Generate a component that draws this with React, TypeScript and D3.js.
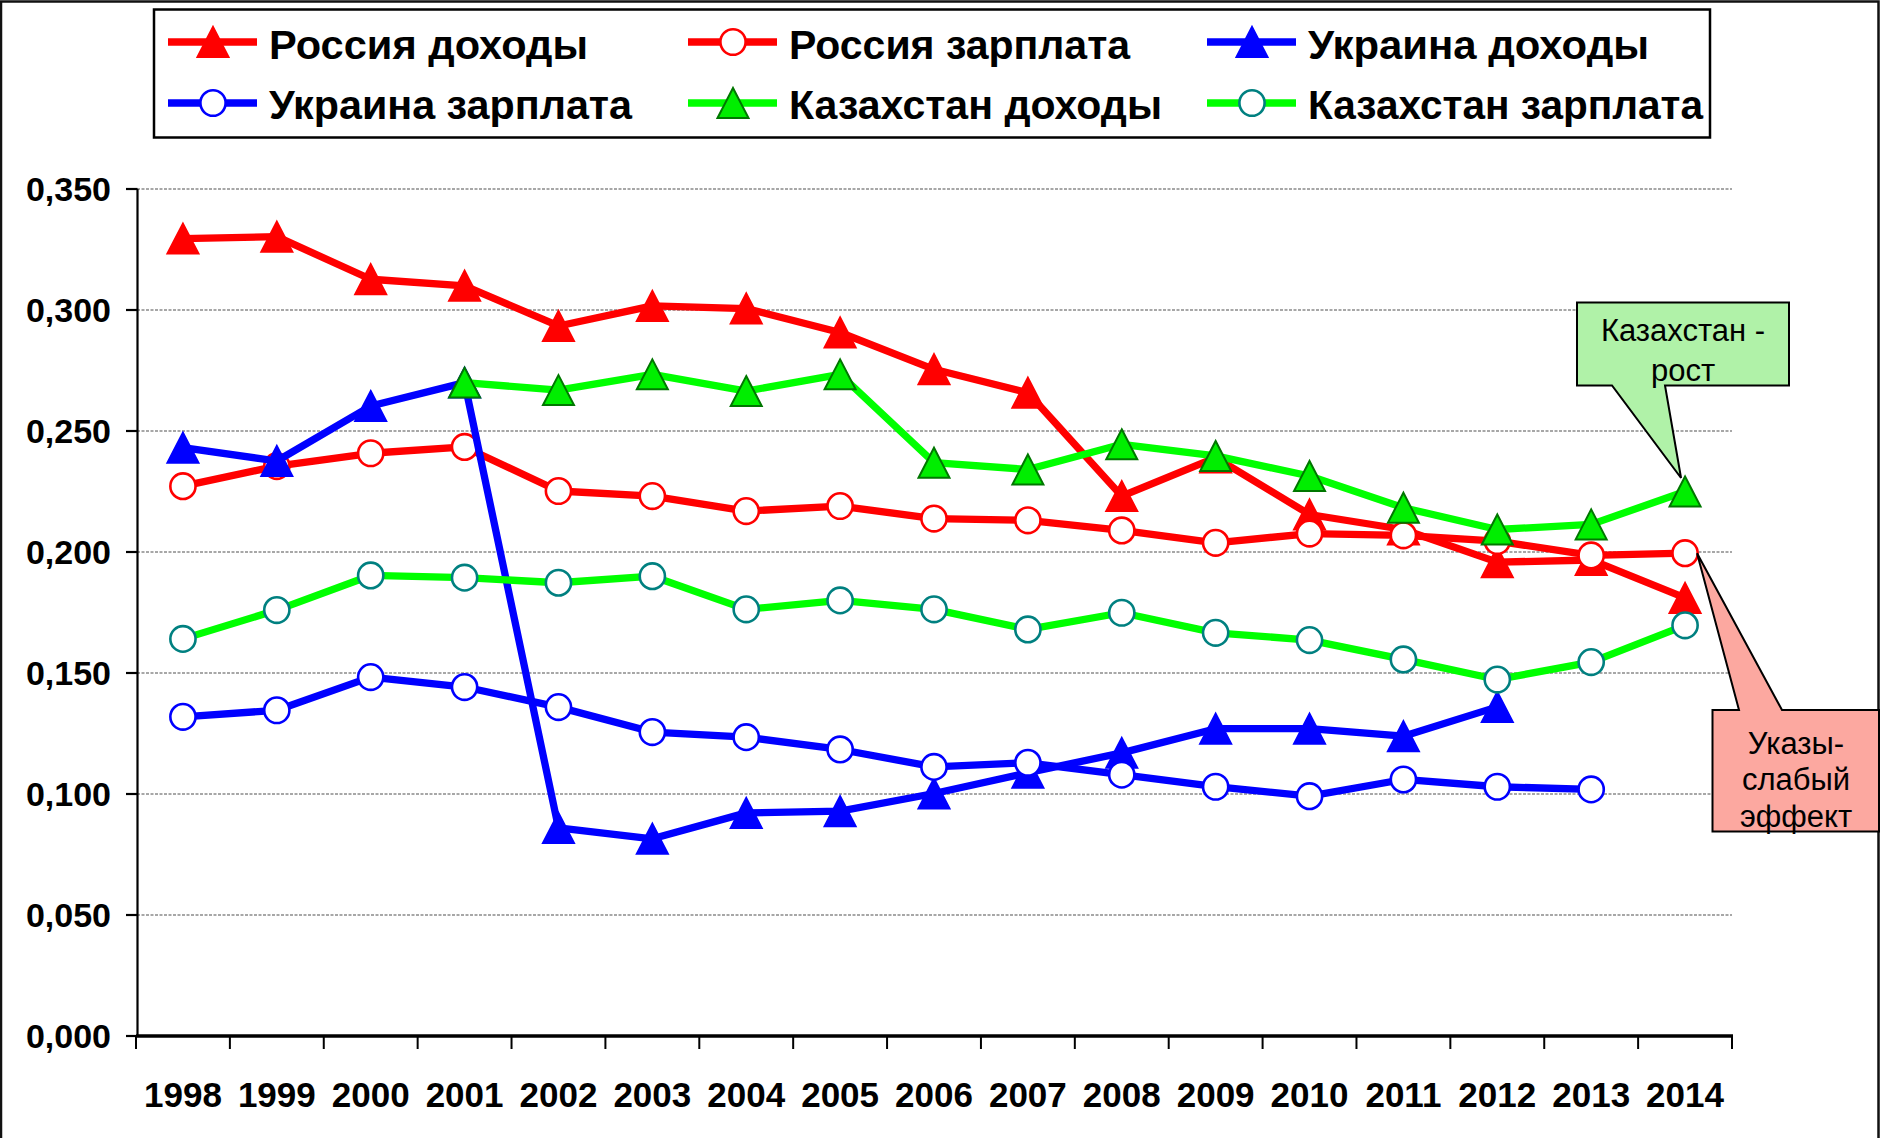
import React from "react";
import * as d3 from "d3";

const years = ["1998","1999","2000","2001","2002","2003","2004","2005","2006","2007","2008","2009","2010","2011","2012","2013","2014"];
const yTickValues = [0, 0.05, 0.1, 0.15, 0.2, 0.25, 0.3, 0.35];

const russiaIncome = [0.3295, 0.3303, 0.3127, 0.310, 0.2934, 0.3017, 0.3006, 0.2907, 0.2755, 0.2658, 0.2231, 0.239, 0.2155, 0.2093, 0.1958, 0.1967, 0.181];
const russiaWage = [0.2272, 0.2355, 0.2408, 0.2434, 0.2252, 0.2231, 0.2169, 0.219, 0.2138, 0.2131, 0.2089, 0.2038, 0.2076, 0.2069, 0.2045, 0.1986, 0.1995];
const ukraineIncome = [0.2431, 0.2376, 0.2603, 0.270, 0.086, 0.0815, 0.0922, 0.0929, 0.1002, 0.1088, 0.117, 0.127, 0.127, 0.1239, 0.136, null, null];
const ukraineWage = [0.1319, 0.1346, 0.1483, 0.1442, 0.1359, 0.1256, 0.1235, 0.1184, 0.1112, 0.1129, 0.108, 0.103, 0.0991, 0.106, 0.103, 0.1019, null];
const kazIncome = [null, null, null, 0.270, 0.2669, 0.2734, 0.2665, 0.2734, 0.2369, 0.2341, 0.2445, 0.2397, 0.2314, 0.2183, 0.2093, 0.2114, 0.225];
const kazWage = [0.1641, 0.176, 0.1903, 0.1894, 0.1873, 0.190, 0.1763, 0.180, 0.1763, 0.168, 0.1749, 0.1666, 0.1636, 0.1556, 0.1473, 0.1545, 0.1697];

const seriesNames = ["Россия доходы", "Россия зарплата", "Украина доходы", "Украина зарплата", "Казахстан доходы", "Казахстан зарплата"];
const seriesValues = [russiaIncome, russiaWage, ukraineIncome, ukraineWage, kazIncome, kazWage];
const seriesLine = ["#FF0000", "#FF0000", "#0000FF", "#0000FF", "#00FF00", "#00FF00"];
const seriesMarker = ["triangle", "circle", "triangle", "circle", "triangle", "circle"];
const seriesMarkerFill = ["#FF0000", "#FFFFFF", "#0000FF", "#FFFFFF", "#00EE00", "#FFFFFF"];
const seriesMarkerStroke = ["#FF0000", "#FF0000", "#0000FF", "#0000FF", "#007700", "#008080"];
const legendTextWidths = [319, 341, 341, 363, 373, 395];

const calloutKaz = ["Казахстан -", "рост"];
const calloutRus = ["Указы-", "слабый", "эффект"];

const FONT = "'Liberation Sans', Arial, sans-serif";

function Marker({ kind, x, y, fill, stroke }: { kind: string; x: number; y: number; fill: string; stroke: string }) {
  if (kind === "triangle") {
    const w = 15.5, h = 15;
    return (
      <path
        d={`M${x},${y - h} L${x + w},${y + h} L${x - w},${y + h} Z`}
        fill={fill}
        stroke={stroke}
        strokeWidth={2}
        strokeLinejoin="miter"
      />
    );
  }
  return <ellipse cx={x} cy={y} rx={12.6} ry={12.8} fill={fill} stroke={stroke} strokeWidth={2.6} />;
}

export default function App() {
  const W = 1883, H = 1138;
  const x = d3.scaleBand<string>().domain(years).range([136, 1732]).padding(0);
  const cx = (yr: string) => (x(yr) as number) + x.bandwidth() / 2;
  const y = d3.scaleLinear().domain([0, 0.35]).range([1036, 189]);
  const fmt = (v: number) => d3.format(".3f")(v).replace(".", ",");
  const bounds = years.map((yr) => x(yr) as number).concat([x.range()[1]]);

  const lineGen = d3
    .line<number | null>()
    .defined((d) => d != null)
    .x((_, i) => cx(years[i]))
    .y((d) => y(d as number));

  const legendCols = [168, 688, 1207];
  const legendRows = [42, 103];
  const legendBaselines = [59, 119];

  return (
    <svg width={W} height={H} style={{ position: "absolute", left: 0, top: 0, background: "#fff" }} fontFamily={FONT}>
      <rect x={0} y={0} width={W} height={H} fill="#fff" />
      {/* outer frame */}
      <rect x={1} y={1.5} width={1877.5} height={H + 4} fill="none" stroke="#111" strokeWidth={2.5} />

      {/* gridlines */}
      {yTickValues.filter((v) => v > 0).map((v) => (
        <line key={"g" + v} x1={137} x2={1732} y1={y(v)} y2={y(v)} stroke="#8a8a8a" strokeWidth={1.3} strokeDasharray="3 1.5" />
      ))}

      {/* y axis */}
      <line x1={137.5} x2={137.5} y1={y(0.35)} y2={y(0)} stroke="#000" strokeWidth={2.2} />
      {yTickValues.map((v) => (
        <g key={"yt" + v}>
          <line x1={126} x2={137.5} y1={y(v)} y2={y(v)} stroke="#000" strokeWidth={2.2} />
          <text x={111} y={y(v)} dy="0.36em" textAnchor="end" fontSize={34} fontWeight="bold" fill="#000">
            {fmt(v)}
          </text>
        </g>
      ))}

      {/* x axis */}
      <line x1={136} x2={1733} y1={y(0)} y2={y(0)} stroke="#000" strokeWidth={3.5} />
      {bounds.map((b, i) => (
        <line key={"xt" + i} x1={b} x2={b} y1={y(0)} y2={1049} stroke="#000" strokeWidth={2} />
      ))}
      {years.map((yr) => (
        <text key={"xl" + yr} x={cx(yr)} y={1107} textAnchor="middle" fontSize={35} fontWeight="bold" fill="#000">
          {yr}
        </text>
      ))}

      {/* series */}
      {seriesValues.map((vals, si) => (
        <g key={"s" + si}>
          <path d={lineGen(vals) || ""} fill="none" stroke={seriesLine[si]} strokeWidth={7.3} strokeLinejoin="round" />
          {vals.map((v, i) =>
            v == null ? null : (
              <Marker
                key={i}
                kind={seriesMarker[si]}
                x={cx(years[i])}
                y={y(v)}
                fill={seriesMarkerFill[si]}
                stroke={seriesMarkerStroke[si]}
              />
            )
          )}
        </g>
      ))}

      {/* legend */}
      <rect x={154} y={9.5} width={1556} height={128} fill="#fff" stroke="#000" strokeWidth={2.5} />
      {seriesNames.map((name, si) => {
        const col = si % 3;
        const row = Math.floor(si / 3);
        const lx = legendCols[col];
        const ly = legendRows[row];
        return (
          <g key={"lg" + si}>
            <line x1={lx} x2={lx + 89} y1={ly} y2={ly} stroke={seriesLine[si]} strokeWidth={7.5} />
            <Marker kind={seriesMarker[si]} x={lx + 45} y={ly} fill={seriesMarkerFill[si]} stroke={seriesMarkerStroke[si]} />
            <text
              x={lx + 101}
              y={legendBaselines[row]}
              fontSize={41}
              fontWeight="bold"
              fill="#000"
              textLength={legendTextWidths[si]}
              lengthAdjust="spacingAndGlyphs"
            >
              {name}
            </text>
          </g>
        );
      })}

      {/* callouts */}
      <path
        d={`M1577,302.5 H1789 V385.5 H1665 L${cx("2014") - 4},478 L1612,385.5 H1577 Z`}
        fill="#B0F2A8"
        stroke="#000"
        strokeWidth={2}
        strokeLinejoin="miter"
      />
      {calloutKaz.map((t, i) => (
        <text key={"ck" + i} x={1683} y={341 + i * 39.5} textAnchor="middle" fontSize={31} fill="#000">
          {t}
        </text>
      ))}
      <path
        d={`M1712.5,710 H1739 L${cx("2014") + 12},${y(russiaWage[16])} L1782,710 H1879 V831.5 H1712.5 Z`}
        fill="#FCA8A0"
        stroke="#000"
        strokeWidth={2}
        strokeLinejoin="miter"
      />
      {calloutRus.map((t, i) => (
        <text key={"cr" + i} x={1796} y={753.5 + i * 36.5} textAnchor="middle" fontSize={31} fill="#000">
          {t}
        </text>
      ))}
    </svg>
  );
}
